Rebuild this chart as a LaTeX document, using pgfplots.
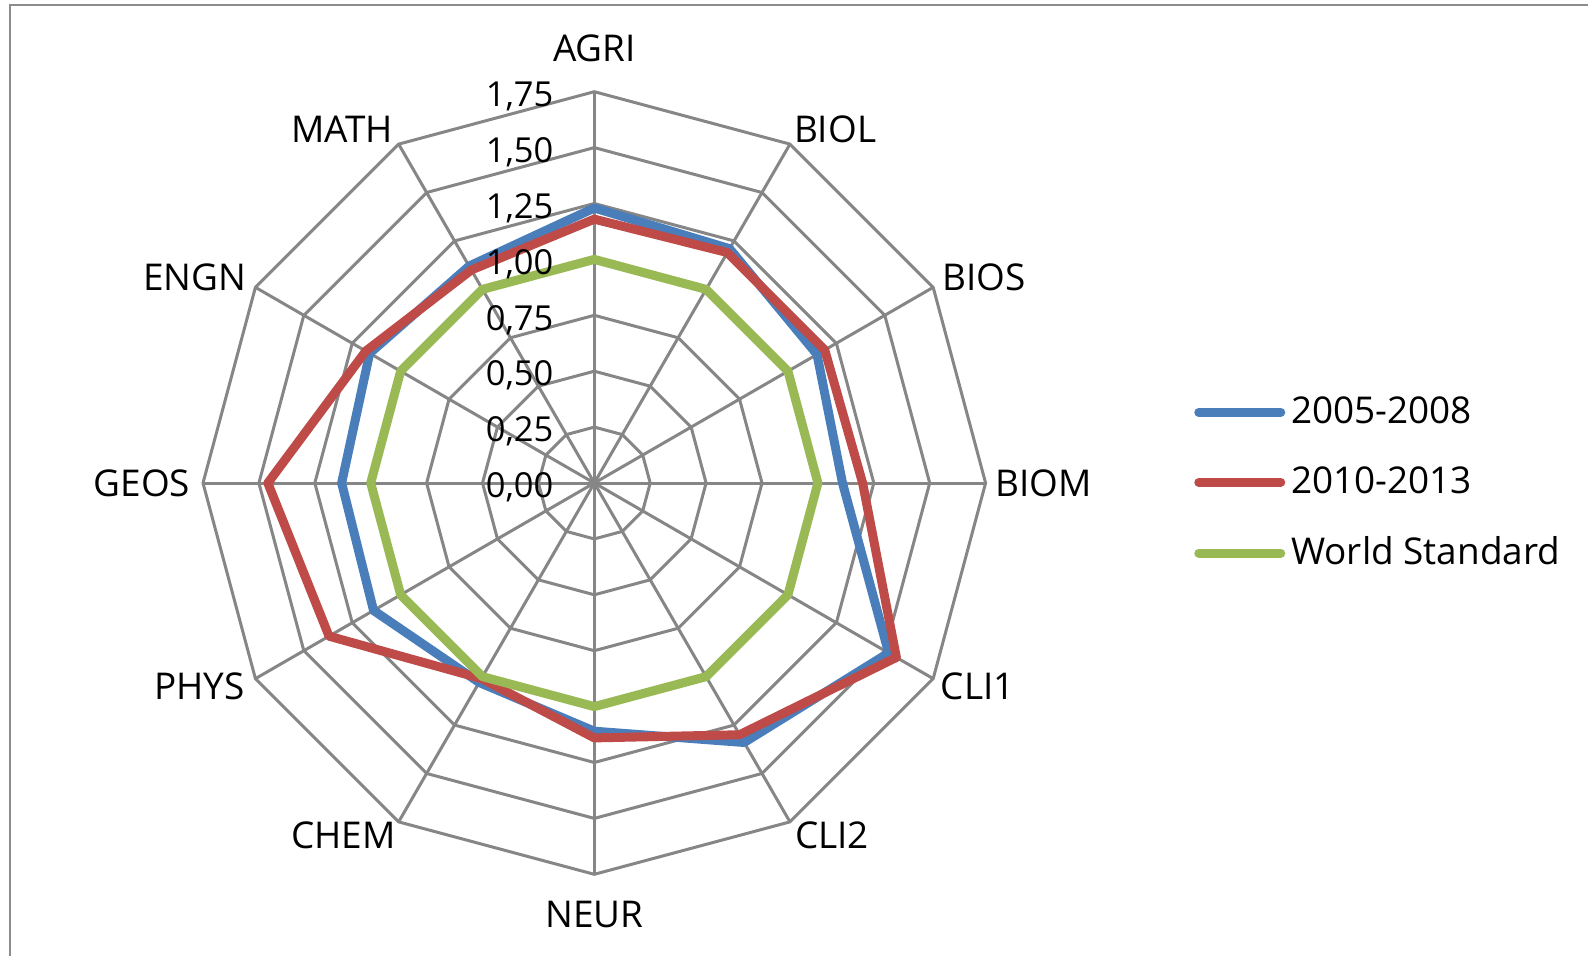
\documentclass[border=0pt]{standalone}
\usepackage{fontspec}
\setmainfont{Open Sans}
\usepackage{pgfplots}
\pgfplotsset{compat=1.18}
\definecolor{cblue}{RGB}{74,126,187}
\definecolor{cred}{RGB}{190,75,72}
\definecolor{cgreen}{RGB}{152,185,84}
\definecolor{cgrid}{RGB}{134,134,134}
\definecolor{cframe}{RGB}{140,140,140}
\begin{document}
\begin{tikzpicture}[x=1mm,y=1mm]
\useasboundingbox (0,0) rectangle (158.8,95.5);
\draw[cframe, line width=0.25mm] (1.0,-5) -- (1.0,95.0) -- (170,95.0);
\begin{axis}[
  at={(59.43mm,47.2mm)}, anchor=origin,
  x=22.36mm, y=22.36mm,
  xmin=-2.2, xmax=3.2, ymin=-2.1, ymax=2.1,
  hide axis, clip=false,
  legend style={at={(axis cs:2.68,0)}, anchor=west, draw=none, fill=none,
    font=\fontsize{10.5}{12}\selectfont, row sep=2.6mm, inner sep=0pt,
    nodes={inner sep=0.6mm}},
  legend cell align=left,
  legend image code/.code={\draw[#1, line cap=round] (0mm,0mm) -- (8.2mm,0mm);},
]
% grid rings
\pgfplotsinvokeforeach{0.25,0.5,0.75,1,1.25,1.5,1.75}{
  \addplot[cgrid, line width=0.3mm, data cs=polar, forget plot, line join=miter]
    coordinates {(0,#1)(30,#1)(60,#1)(90,#1)(120,#1)(150,#1)(180,#1)(210,#1)(240,#1)(270,#1)(300,#1)(330,#1)(360,#1)(30,#1)};
}
% spokes
\pgfplotsinvokeforeach{0,30,60,90,120,150,180,210,240,270,300,330}{
  \addplot[cgrid, line width=0.3mm, data cs=polar, forget plot]
    coordinates {(#1,0)(#1,1.75)};
}
% 2005-2008
\addplot[cblue, line width=0.9mm, data cs=polar, line join=round]
  coordinates {(90,1.23)(60,1.21)(30,1.15)(0,1.11)(-30,1.52)(-60,1.34)(-90,1.11)(-120,1.03)(-150,1.14)(180,1.13)(150,1.16)(120,1.12)(90,1.23)(60,1.21)};
\addlegendentry{2005-2008}
% 2010-2013
\addplot[cred, line width=0.9mm, data cs=polar, line join=round]
  coordinates {(90,1.18)(60,1.19)(30,1.19)(0,1.20)(-30,1.56)(-60,1.30)(-90,1.14)(-120,1.01)(-150,1.37)(180,1.46)(150,1.18)(120,1.10)(90,1.18)(60,1.19)};
\addlegendentry{2010-2013}
% World Standard
\addplot[cgreen, line width=0.9mm, data cs=polar, line join=round]
  coordinates {(90,1.00)(60,1.00)(30,1.00)(0,1.00)(-30,1.00)(-60,1.00)(-90,1.00)(-120,1.00)(-150,1.00)(180,1.00)(150,1.00)(120,1.00)(90,1.00)(60,1.00)};
\addlegendentry{World Standard}
% tick labels
\begin{scope}[every node/.style={anchor=east, inner sep=0pt, yshift=-0.45mm, font=\fontsize{9.8}{12}\selectfont}]
\node at (axis cs:-0.18,0) {0,00};
\node at (axis cs:-0.18,0.25) {0,25};
\node at (axis cs:-0.18,0.5) {0,50};
\node at (axis cs:-0.18,0.75) {0,75};
\node at (axis cs:-0.18,1.0) {1,00};
\node at (axis cs:-0.18,1.25) {1,25};
\node at (axis cs:-0.18,1.5) {1,50};
\node at (axis cs:-0.18,1.75) {1,75};
\end{scope}
% category labels
\begin{scope}[every node/.style={inner sep=0pt, font=\fontsize{10.5}{12}\selectfont}]
\node at (axis cs:0,1.946) {AGRI};
\node at (axis cs:1.077,1.584) {BIOL};
\node at (axis cs:1.742,0.919) {BIOS};
\node at (axis cs:2.009,0) {BIOM};
\node at (axis cs:1.715,-0.910) {CLI1};
\node at (axis cs:1.063,-1.575) {CLI2};
\node at (axis cs:0,-1.932) {NEUR};
\node at (axis cs:-1.122,-1.575) {CHEM};
\node at (axis cs:-1.765,-0.910) {PHYS};
\node at (axis cs:-2.023,0) {GEOS};
\node at (axis cs:-1.787,0.919) {ENGN};
\node at (axis cs:-1.127,1.584) {MATH};
\end{scope}
\end{axis}
\end{tikzpicture}
\end{document}
